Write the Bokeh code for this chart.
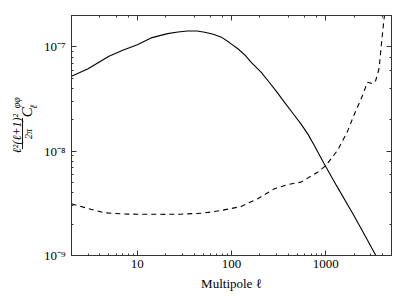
import math
from bokeh.plotting import figure
from bokeh.layouts import row
from bokeh.models import LogAxis, Label, CustomJSTickFormatter, Range1d
from bokeh.embed import file_html
from bokeh.resources import INLINE

# ---- data ----
ell_phi = [2, 3, 5, 7, 10, 14, 21, 27, 34, 43, 52, 64, 78, 95, 117, 140, 161, 206, 243,
           300, 364, 450, 546, 650, 755, 963, 1300, 2000, 2700, 3410, 4000]
cl_phi = [5.24e-8, 6.17e-8, 8.15e-8, 9.3e-8, 1.05e-7, 1.22e-7, 1.34e-7, 1.39e-7, 1.42e-7,
          1.42e-7, 1.38e-7, 1.32e-7, 1.24e-7, 1.10e-7, 9.6e-8, 8.3e-8, 7.13e-8, 5.72e-8,
          4.76e-8, 3.75e-8, 2.95e-8, 2.3e-8, 1.83e-8, 1.45e-8, 1.14e-8, 7.57e-9, 4.7e-9,
          2.4e-9, 1.47e-9, 1.0e-9, 7.8e-10]

ell_noise = [2, 3, 4.5, 7, 10, 20, 29, 50, 78, 126, 190, 285, 400, 546, 821, 1005, 1337,
             1706, 1991, 2461, 2780, 3141, 3397, 3686, 3910, 4165, 4400]
cl_noise = [3.13e-9, 2.82e-9, 2.57e-9, 2.5e-9, 2.49e-9, 2.48e-9, 2.49e-9, 2.55e-9, 2.70e-9,
            2.95e-9, 3.50e-9, 4.36e-9, 4.8e-9, 5.05e-9, 6.29e-9, 7.29e-9, 1.02e-8, 1.55e-8,
            2.20e-8, 3.42e-8, 4.59e-8, 4.43e-8, 4.76e-8, 6.17e-8, 1.07e-7, 1.86e-7, 2.6e-7]

x_limits = (2, 5000)
y_limits = (1e-9, 2e-7)
x_label = "Multipole ℓ"
y_label_parts = ["ℓ²(ℓ+1)²", "2π", "C", "φφ", "ℓ"]

H = 300
LW = 40                               # width of the strip that holds the y label
FL, FT, FR, FB = 70, 15, 391, 255     # frame edges on the page
W = 400
SERIF = "Liberation Serif"
FRAME = "#333333"

p = figure(width=W - LW, height=H, x_axis_type="log", y_axis_type="log",
           x_range=x_limits, y_range=y_limits,
           output_backend="svg", toolbar_location=None,
           min_border_left=FL - LW, min_border_right=W - FR, min_border_top=FT,
           min_border_bottom=H - FB)
p.grid.visible = False
p.outline_line_color = FRAME
p.outline_line_width = 1
p.background_fill_color = "white"
p.border_fill_color = "white"

p.line(ell_phi, cl_phi, line_color="black", line_width=1.1)
p.line(ell_noise, cl_noise, line_color="black", line_width=1.1, line_dash="5 4")

p.yaxis.formatter = CustomJSTickFormatter(code="""
const e = Math.round(Math.log10(tick));
const m = {'-':'\u207b','0':'\u2070','1':'\u00b9','2':'\u00b2','3':'\u00b3','4':'\u2074','5':'\u2075','6':'\u2076','7':'\u2077','8':'\u2078','9':'\u2079'};
return '10' + String(e).split('').map(c => m[c]).join('');
""")
p.xaxis.formatter = CustomJSTickFormatter(code="return String(Math.round(tick));")

for ax in list(p.xaxis) + list(p.yaxis):
    ax.major_tick_in = 5
    ax.major_tick_out = 0
    ax.minor_tick_in = 2
    ax.minor_tick_out = 0
    ax.axis_line_color = FRAME
    ax.major_tick_line_color = FRAME
    ax.minor_tick_line_color = FRAME
    ax.major_label_text_font = SERIF
    ax.major_label_text_font_size = "13px"
    ax.major_label_text_color = "black"
p.xaxis.major_label_standoff = 4
p.yaxis.major_label_standoff = 6

p.xaxis.axis_label = x_label
p.xaxis.axis_label_text_font = SERIF
p.xaxis.axis_label_text_font_style = "normal"
p.xaxis.axis_label_text_font_size = "13px"
p.xaxis.axis_label_standoff = 5
p.xaxis.axis_label_text_color = "black"

blank = CustomJSTickFormatter(code="return '';")
for loc in ("above", "right"):
    ax = LogAxis(formatter=blank, major_tick_in=5, major_tick_out=0, minor_tick_in=2,
                 minor_tick_out=0, axis_line_color=FRAME, major_tick_line_color=FRAME,
                 minor_tick_line_color=FRAME, major_label_standoff=0)
    p.add_layout(ax, loc)

# ---- y axis label strip: l^2(l+1)^2 / 2pi  C_l^{phi phi}, as real text ----
q = figure(width=LW, height=H, x_range=Range1d(0, LW), y_range=Range1d(H, 0),
           output_backend="svg", toolbar_location=None, min_border=0)
q.axis.visible = False
q.grid.visible = False
q.outline_line_color = None
q.background_fill_color = "white"
q.border_fill_color = "white"

def lab(text, px, py, size, style="italic"):
    return Label(x=px, y=py, text=text, angle=math.pi / 2,
                 text_align="center", text_baseline="middle",
                 text_font=SERIF, text_font_size=size, text_font_style=style,
                 text_color="black")

q.add_layout(lab(y_label_parts[0], 16.5, 147.5, "12px"))
q.add_layout(lab(y_label_parts[1], 27.5, 148, "10px"))
q.add_layout(lab(y_label_parts[2], 26, 121, "15px"))
q.add_layout(lab(y_label_parts[3], 16, 109, "10px"))
q.add_layout(lab(y_label_parts[4], 32.5, 114, "10px"))
q.segment(x0=[22], y0=[128], x1=[22], y1=[167], line_color="black", line_width=0.9)

open("out.html", "w").write(file_html(row(q, p), INLINE))
